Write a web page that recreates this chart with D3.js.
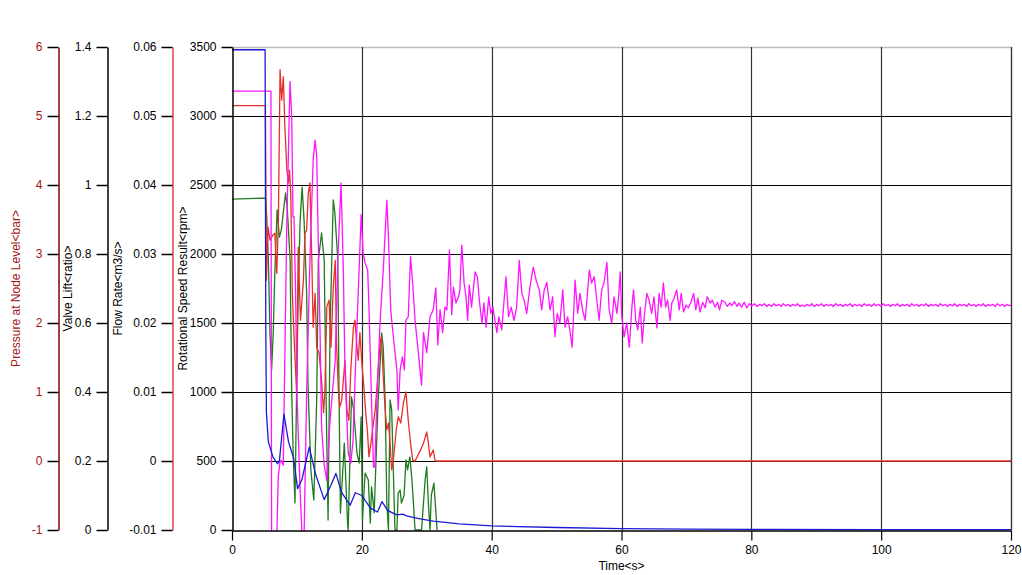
<!DOCTYPE html>
<html>
<head>
<meta charset="utf-8">
<script src="https://cdn.jsdelivr.net/npm/d3@7"></script>
<style>
  body { margin: 0; background: #fff; }
  svg text { font-family: "Liberation Sans", Arial, sans-serif; font-size: 12px; }
</style>
</head>
<body>
<div id="chart"></div>
<script>
// --- data: [time s, value] ---
const speedSeries = [
  [0, 3480], [5.1, 3480], [5.2, 1500], [5.3, 850], [5.6, 640], [6.3, 530], [7.0, 480], [7.3, 500],
  [8.0, 840], [8.7, 640], [9.5, 520], [10.1, 300], [10.8, 370], [11.9, 600], [12.9, 400], [14.2, 220],
  [15.2, 320], [16.0, 410], [16.9, 270], [18.2, 180], [19.0, 270], [20.0, 250], [21.3, 160], [22.4, 130],
  [23.1, 205], [24.0, 140], [25.4, 110], [26.3, 115], [27.0, 100], [29, 80], [31, 65], [35, 45],
  [40, 30], [50, 18], [60, 10], [70, 7], [80, 5], [100, 3], [120, 2]
];

const pressureSeries = [
  [0, 5.36], [6.0, 5.36], [6.1, -1.1], [6.9, -1.1], [7.13, -0.23], [7.4, -0.01], [7.55, 0.01], [7.9, -0.06],
  [8.43, 3.39], [8.94, 5.50], [9.2, 4.99], [9.4, 3.54], [9.55, 3.54], [9.8, 2.43], [10.0, 1.0], [10.5, -0.45],
  [10.8, -1.1], [11.1, -1.1], [11.5, 0.99], [12.0, 2.91], [12.5, 4.36], [12.8, 4.65], [13.05, 4.41], [13.25, 3.39],
  [13.55, 1.94], [13.8, 0.49], [14.2, -0.06], [14.6, -0.28], [15.1, 0.59], [15.9, 1.46], [16.3, 2.91], [16.8, 4.03],
  [17.15, 2.77], [17.4, 1.32], [17.9, 0.12], [18.3, -0.03], [18.65, 0.30], [18.95, 1.17], [19.4, 2.33], [19.9, 3.57],
  [20.2, 3.01], [20.5, 2.87], [20.9, 2.77], [21.1, 2.23], [21.5, 0.84], [21.8, -0.09], [22.0, -0.09], [22.3, 0.84],
  [22.8, 2.0], [23.3, 2.77], [23.85, 3.78], [24.1, 3.25], [24.45, 2.19], [24.85, 1.80], [25.4, 1.32], [25.6, 0.74],
  [25.9, 1.32], [26.25, 1.51], [26.55, 1.32], [26.8, 2.04], [27.15, 2.09], [27.5, 2.96], [27.85, 2.55], [28.2, 2.04],
  [28.7, 1.57], [29.2, 1.10], [29.5, 1.86], [30.0, 1.57], [30.5, 2.09], [31.0, 2.19], [31.4, 2.51], [31.7, 1.68],
  [32.05, 2.19], [32.45, 1.86], [32.8, 2.23], [33.1, 2.19], [33.5, 3.06], [33.85, 2.12], [34.1, 2.52], [34.5, 2.29],
  [34.9, 2.38], [35.1, 2.48], [35.4, 3.13], [35.75, 2.58], [36.05, 2.38], [36.3, 2.04], [36.55, 2.55], [36.9, 2.23],
  [37.45, 2.74], [37.8, 2.67], [38.1, 2.33], [38.5, 2.0], [38.8, 2.29], [39.15, 1.94], [39.55, 2.38], [39.85, 2.14],
  [40.2, 2.23], [40.5, 2.04], [40.8, 1.86], [41.1, 2.09], [41.55, 1.90], [42.2, 2.67], [42.6, 2.09], [43.0, 2.23],
  [43.45, 2.04], [43.85, 2.23], [44.25, 2.91], [44.65, 2.43], [45.0, 2.33], [45.4, 2.14], [45.9, 2.52], [46.4, 2.81],
  [46.85, 2.62], [47.35, 2.48], [47.7, 2.19], [48.1, 2.48], [48.5, 2.59], [49.0, 2.19], [49.4, 2.38], [49.75, 1.80],
  [50.1, 2.14], [50.5, 2.0], [50.95, 2.48], [51.3, 1.94], [51.7, 2.09], [52.1, 1.86], [52.4, 1.65], [52.85, 2.62],
  [53.25, 2.14], [53.6, 2.43], [54.0, 2.19], [54.4, 2.04], [54.75, 2.43], [55.05, 2.77], [55.4, 2.58], [55.8, 2.67],
  [56.2, 2.33], [56.55, 2.04], [56.95, 2.48], [57.3, 2.58], [57.75, 2.88], [58.1, 2.19], [58.5, 2.0], [58.85, 2.38],
  [59.3, 2.14], [59.6, 2.43], [59.8, 2.74], [60.05, 2.09], [60.4, 1.80], [60.8, 2.0], [61.2, 1.65], [61.6, 2.23],
  [61.85, 2.48], [62.2, 2.04], [62.5, 1.90], [62.9, 2.23], [63.2, 1.71], [63.5, 2.09], [63.9, 2.43], [64.25, 2.33],
  [64.65, 2.14], [65.0, 2.38], [65.45, 1.93], [65.8, 2.43], [66.1, 2.23], [66.45, 2.58], [66.8, 2.23], [67.1, 2.33],
  [67.5, 2.04], [67.75, 2.29], [68.1, 2.36], [68.5, 2.48], [68.9, 2.19], [69.2, 2.43], [69.55, 2.16], [69.95, 2.26],
  [70.3, 2.22], [70.7, 2.30], [71.1, 2.43], [71.45, 2.19], [71.75, 2.36], [72.1, 2.16], [72.5, 2.30], [72.9, 2.22],
  [73.2, 2.38], [73.65, 2.29], [74.0, 2.33], [74.4, 2.23], [74.8, 2.30], [75.1, 2.19], [75.45, 2.33], [75.95, 2.30],
  [76.3, 2.24], [76.7, 2.29], [77.0, 2.25], [77.4, 2.31], [77.8, 2.24], [78.1, 2.29], [78.5, 2.23], [78.9, 2.30],
  [79.3, 2.22], [79.7, 2.28], [80.1, 2.25], [80.5, 2.28], [80.9, 2.24], [81.3, 2.27], [81.6, 2.25], [82.0, 2.28],
  [82.4, 2.24], [82.7, 2.27], [83.1, 2.24], [83.5, 2.28], [83.8, 2.25], [84.2, 2.27], [84.6, 2.24], [84.9, 2.28],
  [85.3, 2.25], [85.7, 2.27], [86.0, 2.24], [86.4, 2.27], [86.8, 2.25], [87.1, 2.28], [87.5, 2.24], [87.9, 2.26],
  [88.2, 2.24], [88.6, 2.27], [89.0, 2.25], [89.3, 2.28], [89.7, 2.24], [90.1, 2.27], [90.4, 2.25], [90.8, 2.28],
  [91.2, 2.24], [91.5, 2.27], [91.9, 2.25], [92.3, 2.27], [92.6, 2.24], [93.0, 2.28], [93.4, 2.25], [93.7, 2.27],
  [94.1, 2.24], [94.5, 2.27], [94.8, 2.25], [95.2, 2.28], [95.6, 2.24], [95.9, 2.27], [96.3, 2.25], [96.7, 2.27],
  [97.0, 2.24], [97.4, 2.28], [97.8, 2.25], [98.1, 2.27], [98.5, 2.24], [98.9, 2.28], [99.2, 2.25], [99.6, 2.27],
  [100.0, 2.24], [100.3, 2.28], [100.7, 2.25], [101.1, 2.27], [101.4, 2.24], [101.8, 2.27], [102.2, 2.25], [102.5, 2.28],
  [102.9, 2.24], [103.3, 2.27], [103.6, 2.25], [104.0, 2.27], [104.4, 2.24], [104.7, 2.28], [105.1, 2.25], [105.5, 2.27],
  [105.8, 2.24], [106.2, 2.27], [106.6, 2.25], [106.9, 2.28], [107.3, 2.24], [107.7, 2.27], [108.0, 2.25], [108.4, 2.27],
  [108.8, 2.24], [109.1, 2.28], [109.5, 2.25], [109.9, 2.27], [110.2, 2.24], [110.6, 2.27], [111.0, 2.25], [111.3, 2.28],
  [111.7, 2.24], [112.1, 2.27], [112.4, 2.25], [112.8, 2.27], [113.2, 2.24], [113.5, 2.28], [113.9, 2.25], [114.3, 2.27],
  [114.6, 2.24], [115.0, 2.27], [115.4, 2.25], [115.7, 2.28], [116.1, 2.24], [116.5, 2.27], [116.8, 2.25], [117.2, 2.27],
  [117.6, 2.24], [117.9, 2.28], [118.3, 2.25], [118.7, 2.27], [119.0, 2.24], [119.4, 2.27], [119.8, 2.25], [120, 2.26]
];

const flowSeries = [
  [0, 0.0515], [5.15, 0.0515], [5.3, 0.0262], [5.55, 0.0339], [5.85, 0.032], [6.35, 0.0328], [6.6, 0.033], [6.9, 0.0272],
  [7.15, 0.0349], [7.4, 0.0567], [7.65, 0.0523], [7.9, 0.0557], [8.15, 0.0484], [8.45, 0.0422], [8.7, 0.0403], [8.85, 0.0422],
  [9.05, 0.0388], [9.3, 0.0243], [9.6, 0.0171], [9.95, 0.0099], [10.2, 0.031], [10.55, 0.0204], [11.0, 0.0262], [11.25, 0.033],
  [11.5, 0.0335], [11.75, 0.0388], [12.0, 0.0403], [12.3, 0.0291], [12.5, 0.0194], [12.8, 0.0243], [13.05, 0.0165], [13.4, 0.0157],
  [13.8, 0.0117], [14.1, 0.007], [14.3, 0.0099], [14.6, 0.0223], [14.95, 0.0233], [15.25, 0.0165], [15.6, 0.0252], [15.9, 0.0291],
  [16.1, 0.0171], [16.4, 0.0099], [16.6, 0.0078], [16.9, 0.0088], [17.4, 0.0146], [17.7, 0.0074], [18.0, 0.0059], [18.3, 0.0132],
  [18.7, 0.0194], [18.95, 0.0204], [19.2, 0.0171], [19.45, 0.0146], [19.7, 0.0186], [20.0, 0.0142], [20.35, 0.0103], [20.65, 0.0064],
  [20.85, 0.0045], [21.1, 0.0006], [21.4, 0.0026], [21.7, 0.0049], [22.05, 0.0074], [22.3, 0.0103], [22.6, 0.0142], [22.8, 0.0171],
  [23.0, 0.018], [23.3, 0.0122], [23.6, 0.0074], [23.85, 0.0045], [24.1, 0.0055], [24.35, 0.0026], [24.6, -0.0013], [24.85, 0.0001],
  [25.3, 0.0045], [25.6, 0.0064], [26.0, 0.0055], [26.4, 0.0084], [26.8, 0.01], [27.15, 0.0059], [27.5, 0.0026], [27.85, 0.0001],
  [28.2, 0.0], [29.0, 0.0015], [29.5, 0.0026], [30.0, 0.0042], [30.25, 0.0026], [30.5, 0.0006], [31.0, 0.0016], [31.3, 0.0],
  [120, 0.0]
];

const liftSeries = [
  [0, 0.959], [4.9, 0.962], [5.2, 0.96], [5.35, 0.907], [5.6, 0.783], [5.85, 0.571], [6.1, 0.464], [6.35, 0.571],
  [6.6, 0.745], [6.95, 0.928], [7.3, 0.849], [7.6, 0.870], [7.9, 0.919], [8.25, 0.977], [8.5, 0.936], [8.95, 0.783],
  [9.2, 0.397], [9.45, 0.203], [9.7, 0.078], [9.95, 0.397], [10.2, 0.687], [10.5, 0.899], [10.8, 0.994], [11.1, 0.899],
  [11.5, 0.687], [11.7, 0.426], [12.15, 0.174], [12.6, 0.087], [13.05, 0.377], [13.3, 0.783], [13.8, 0.861], [14.2, 0.783],
  [14.5, 0.377], [14.8, 0.029], [15.1, 0.58], [15.6, 0.957], [15.85, 0.919], [16.3, 0.783], [16.5, 0.377], [16.7, 0.049],
  [17.3, 0.252], [17.8, 0.02], [17.9, 0.0], [18.4, 0.386], [18.75, 0.348], [19.25, 0.223], [19.6, 0.194], [19.9, 0.328],
  [20.1, 0.03], [20.5, 0.165], [21.0, 0.145], [21.3, 0.02], [21.5, 0.125], [21.9, 0.05], [22.5, 0.368], [23.05, 0.571],
  [23.3, 0.530], [23.6, 0.368], [23.85, 0.078], [24.1, 0.0], [24.35, 0.377], [24.6, 0.348], [24.85, 0.174], [25.1, 0.0],
  [25.4, 0.0], [25.6, 0.107], [25.9, 0.116], [26.1, 0.078], [26.5, 0.10], [26.8, 0.203], [27.05, 0.174], [27.4, 0.212],
  [27.7, 0.15], [27.95, 0.078], [28.2, 0.0], [29.2, 0.0], [29.75, 0.145], [30.0, 0.183], [30.25, 0.078], [30.5, 0.0],
  [30.7, 0.10], [31.1, 0.136], [31.3, 0.08], [31.6, 0.0]
];

const timeTicks = [0, 20, 40, 60, 80, 100, 120];
const speedTicks = [0, 500, 1000, 1500, 2000, 2500, 3000, 3500];
const flowTicks = [-0.01, 0, 0.01, 0.02, 0.03, 0.04, 0.05, 0.06];
const liftTicks = [0, 0.2, 0.4, 0.6, 0.8, 1, 1.2, 1.4];
const pressureTicks = [-1, 0, 1, 2, 3, 4, 5, 6];

// --- layout ---
const W = 1022, H = 575;
const plotL = 232, plotR = 1011, plotT = 47, plotB = 530;
const midY = (plotT + plotB) / 2;

const svg = d3.select("#chart").append("svg")
  .attr("width", W).attr("height", H);

const x = d3.scaleLinear().domain([0, 120]).range([plotL, plotR]);
const ySpeed = d3.scaleLinear().domain([0, 3500]).range([plotB, plotT]);
const yFlow = d3.scaleLinear().domain([-0.01, 0.06]).range([plotB, plotT]);
const yLift = d3.scaleLinear().domain([0, 1.4]).range([plotB, plotT]);
const yPress = d3.scaleLinear().domain([-1, 6]).range([plotB, plotT]);

// grid
svg.append("g").selectAll("line").data(speedTicks.slice(1, -1)).join("line")
  .attr("x1", plotL).attr("x2", plotR)
  .attr("y1", d => Math.round(ySpeed(d)) + 0.5).attr("y2", d => Math.round(ySpeed(d)) + 0.5)
  .attr("stroke", "#000").attr("stroke-width", 1);
svg.append("line")
  .attr("x1", plotL).attr("x2", plotR).attr("y1", plotT + 0.5).attr("y2", plotT + 0.5)
  .attr("stroke", "#bdbdbd").attr("stroke-width", 1.5);
svg.append("g").selectAll("line").data(timeTicks.slice(1)).join("line")
  .attr("x1", d => Math.round(x(d)) + 0.5).attr("x2", d => Math.round(x(d)) + 0.5)
  .attr("y1", plotT).attr("y2", plotB)
  .attr("stroke", "#333").attr("stroke-width", 1.2);

// series
svg.append("clipPath").attr("id", "plot-clip")
  .append("rect").attr("x", plotL).attr("y", plotT).attr("width", plotR - plotL).attr("height", plotB - plotT + 1);

const plot = svg.append("g").attr("clip-path", "url(#plot-clip)");

function drawLine(data, yScale, color) {
  const line = d3.line().x(d => x(d[0])).y(d => yScale(d[1]));
  plot.append("path").datum(data)
    .attr("fill", "none").attr("stroke", color).attr("stroke-width", 1.3)
    .attr("stroke-linejoin", "round")
    .attr("d", line);
}

drawLine(liftSeries, yLift, "#1e7b1e");
drawLine(flowSeries, yFlow, "#e8302a");
drawLine(pressureSeries, yPress, "#ff14ff");
drawLine(speedSeries, ySpeed, "#1a1ad6");

// axes
const fmt = d => String(d);

function yAxis(scale, ticks, xpos, lineColor, textColor) {
  const g = svg.append("g")
    .attr("transform", `translate(${xpos + 0.5},0)`)
    .call(d3.axisLeft(scale).tickValues(ticks).tickFormat(fmt).tickSize(11).tickSizeOuter(0).tickPadding(5));
  g.select(".domain").attr("stroke", lineColor).attr("stroke-width", 1.5);
  g.selectAll(".tick line").attr("stroke", "#000").attr("stroke-width", 1.5);
  g.selectAll(".tick text").attr("fill", textColor).style("font-size", "12px");
  return g;
}

yAxis(yPress, pressureTicks, 58, "#800000", "#a31515");
yAxis(yLift, liftTicks, 107, "#000", "#000");
yAxis(yFlow, flowTicks, 172, "#e0403c", "#000");
yAxis(ySpeed, speedTicks, plotL, "#000", "#000");

const gx = svg.append("g")
  .attr("transform", `translate(0,${plotB + 0.5})`)
  .call(d3.axisBottom(x).tickValues(timeTicks).tickFormat(fmt).tickSize(10).tickSizeOuter(0).tickPadding(5));
gx.select(".domain").attr("stroke", "#000").attr("stroke-width", 1.5);
gx.selectAll(".tick line").attr("stroke", "#000").attr("stroke-width", 1.2);
gx.selectAll(".tick text").attr("fill", "#000").style("font-size", "12px");

// right border
svg.append("line")
  .attr("x1", plotR + 0.5).attr("x2", plotR + 0.5).attr("y1", plotT).attr("y2", plotB)
  .attr("stroke", "#333").attr("stroke-width", 1.2);

// axis titles
const titles = [
  { text: "Pressure at Node Level<bar>", x: 16, color: "#a31515" },
  { text: "Valve Lift<ratio>", x: 68, color: "#000" },
  { text: "Flow Rate<m3/s>", x: 118, color: "#000" },
  { text: "Rotational Speed Result<rpm>", x: 183, color: "#000" }
];
svg.append("g").selectAll("text").data(titles).join("text")
  .attr("transform", d => `translate(${d.x},${midY}) rotate(-90)`)
  .attr("text-anchor", "middle").attr("dy", "0.35em")
  .attr("fill", d => d.color)
  .text(d => d.text);

svg.append("text")
  .attr("x", (plotL + plotR) / 2).attr("y", 570)
  .attr("text-anchor", "middle").attr("fill", "#000")
  .text("Time<s>");
</script>
</body>
</html>
